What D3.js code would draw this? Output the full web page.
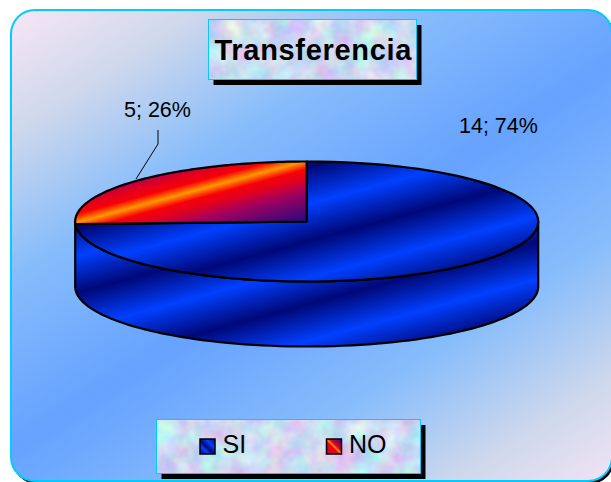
<!DOCTYPE html>
<html><head><meta charset="utf-8">
<script src="https://cdn.jsdelivr.net/npm/d3@7"></script>
<style>html,body{margin:0;padding:0;background:#fff;overflow:hidden}svg{display:block}text{font-family:"Liberation Sans",Arial,sans-serif;fill:#000}</style>
</head><body><svg id="c" width="611" height="482"></svg>
<script>
const categories=["SI","NO"];
const values=[14,5];
const percents=[74,26];
const titleText="Transferencia";

const svg=d3.select("#c"),defs=svg.append("defs");
function lin(id,x1,y1,x2,y2,stops,spread){
  const g=defs.append("linearGradient").attr("id",id).attr("gradientUnits","userSpaceOnUse")
    .attr("x1",x1).attr("y1",y1).attr("x2",x2).attr("y2",y2).attr("spreadMethod",spread||"pad");
  stops.forEach(s=>g.append("stop").attr("offset",s[0]).attr("stop-color",s[1]));
}
lin("bg",11,10,411,632,[[0,"#f8e6f6"],[.14,"#cfd8ec"],[.3,"#88bdfb"],[.5,"#66a2ff"],[.7,"#88bdfb"],[.86,"#cfd8ec"],[1,"#f8e6f6"]]);
const blueStops=[[0,"#000878"],[.5,"#0040ff"],[1,"#000878"]];
lin("blueTop",305,168,323.6,236.9,blueStops,"repeat");
lin("blueSide",305,305,323.6,373.9,blueStops,"repeat");
lin("red",174.4,134.1,205.6,249.9,[[0,"#200a80"],[.25,"#a00060"],[.36,"#e00020"],[.43,"#f80008"],[.5,"#ff9800"],[.57,"#f80008"],[.64,"#e00020"],[.75,"#a00060"],[1,"#200a80"]]);
lin("swB",200,454,215,439,[[0,"#000878"],[.3,"#0040ff"],[.45,"#000878"],[.7,"#0040ff"],[1,"#000878"]]);
lin("swR",326.5,454,341.5,439,[[0,"#d00030"],[.42,"#f00010"],[.5,"#ff9000"],[.6,"#e00020"],[1,"#300a80"]]);
const f=defs.append("filter").attr("id","paper").attr("x",0).attr("y",0).attr("width","100%").attr("height","100%").attr("color-interpolation-filters","sRGB");
f.append("feTurbulence").attr("type","fractalNoise").attr("baseFrequency",.045).attr("numOctaves",3).attr("seed",7).attr("result","n");
f.append("feColorMatrix").attr("in","n").attr("type","matrix").attr("values",
 "0.4 0 0 0 0.6  0 0.4 0 0 0.65  0 0 0.15 0 0.87  0 0 0 0 1");

// chart area
svg.append("rect").attr("x",13).attr("y",12).attr("width",601).attr("height",472).attr("rx",24).attr("fill","#000");
svg.append("rect").attr("x",11).attr("y",10).attr("width",601).attr("height",471).attr("rx",24)
  .attr("fill","url(#bg)").attr("stroke","#00ccff").attr("stroke-width",2);

function box(x,y,w,h){
  svg.append("rect").attr("x",x+5).attr("y",y+5.5).attr("width",w).attr("height",h).attr("fill","#000");
  svg.append("rect").attr("x",x).attr("y",y).attr("width",w).attr("height",h).attr("fill","#ddd").attr("filter","url(#paper)");
  svg.append("rect").attr("x",x).attr("y",y).attr("width",w).attr("height",h).attr("fill","none").attr("stroke","#00ccff").attr("stroke-width",1);
}
box(208.5,19.5,208,60);
svg.append("text").attr("x",214.5).attr("y",60).attr("font-size",29).attr("font-weight","bold").attr("letter-spacing",.7).text(titleText);

// pie geometry
const cx=306.7,cy=221.5,rx=231.5,ry=60,depth=65;
const x=d3.scaleLinear().domain([-1,1]).range([cx-rx,cx+rx]);
const y=d3.scaleLinear().domain([-1,1]).range([cy-ry,cy+ry]);
const slices=d3.pie().sort(null)(values);
// 3D foreshortening of the disc: shifts angles between the axes, keeps the ellipse itself
const warp=a=>a+0.245*Math.sin(2*a);
function pt(a,dy=0){const w=warp(a);return [x(Math.sin(w)),y(-Math.cos(w))+dy];}
function arcPts(a0,a1,dy=0){const n=120;return d3.range(n+1).map(i=>pt(a0+(a1-a0)*i/n,dy));}
const line=d3.line();

// side wall: visible half only
const side=arcPts(Math.PI/2,3*Math.PI/2).concat(arcPts(3*Math.PI/2,Math.PI/2,depth));
svg.append("path").attr("d",line(side)+"Z").attr("fill","url(#blueSide)").attr("stroke","#000").attr("stroke-width",2.2).attr("stroke-linejoin","round");
// top slices
const fills=["url(#blueTop)","url(#red)"];
slices.forEach((s,i)=>{
  svg.append("path").attr("d",line([[cx,cy]].concat(arcPts(s.startAngle,s.endAngle)))+"Z")
    .attr("fill",fills[i]).attr("stroke","#000").attr("stroke-width",2.2).attr("stroke-linejoin","round");
});

// labels
svg.append("text").attr("x",459).attr("y",132.5).attr("font-size",21.5).text(values[0]+"; "+percents[0]+"%");
svg.append("text").attr("x",124).attr("y",116.5).attr("font-size",21.5).text(values[1]+"; "+percents[1]+"%");
svg.append("polyline").attr("points","158,130 158,144 136,179").attr("fill","none").attr("stroke","#000").attr("stroke-width",1);

// legend
box(156.5,419.5,264,54);
const lx=[200,326.5];
categories.forEach((c,i)=>{
  svg.append("rect").attr("x",lx[i]).attr("y",439).attr("width",15).attr("height",15)
    .attr("fill",i?"url(#swR)":"url(#swB)").attr("stroke","#000").attr("stroke-width",1.5);
  svg.append("text").attr("x",lx[i]+22.5).attr("y",453).attr("font-size",25).text(c);
});
</script></body></html>
